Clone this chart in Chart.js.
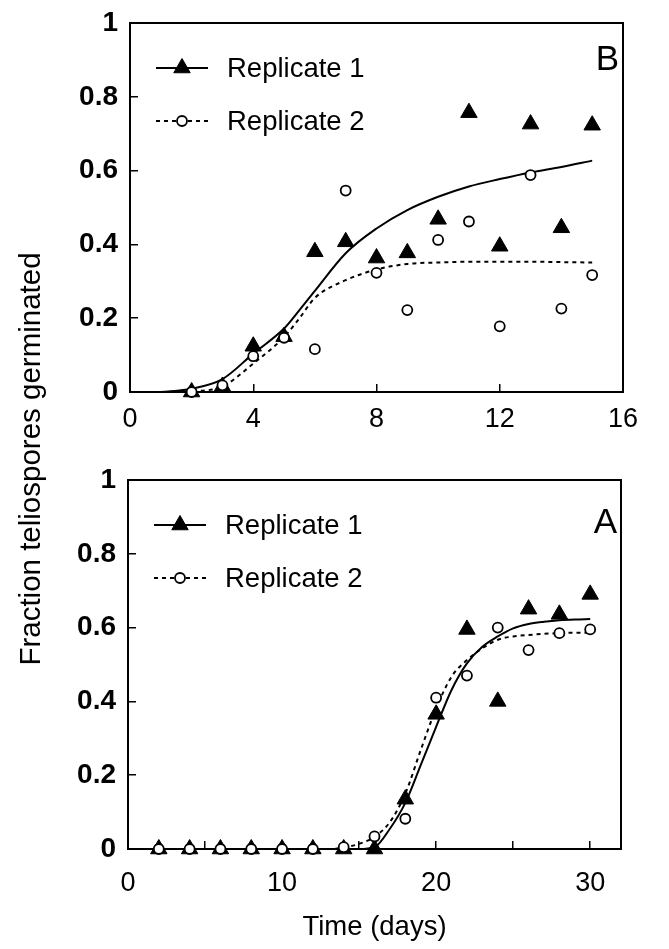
<!DOCTYPE html>
<html>
<head>
<meta charset="utf-8">
<script src="https://cdn.jsdelivr.net/npm/chart.js"></script>
<style>
  html, body { margin: 0; padding: 0; background: #fff; }
  #wrap { position: relative; width: 669px; height: 949px; overflow: hidden; background: #fff; }
  #wrap canvas { position: absolute; left: 0; }
  #ytitle {
    position: absolute; left: -220px; top: 444px; width: 500px; height: 30px;
    line-height: 30px; text-align: center; white-space: nowrap;
    font-family: "Liberation Sans", Arial, sans-serif; font-size: 29.5px; color: #000;
    transform: rotate(-90deg);
  }
</style>
</head>
<body>
<div id="wrap">
  <canvas id="chartB" width="669" height="450" style="top:0px"></canvas>
  <canvas id="chartA" width="669" height="499" style="top:450px"></canvas>
  <div id="ytitle">Fraction teliospores germinated</div>
</div>
<script>
// ---- panel B (days 2..15) ----
const daysB = [2, 3, 4, 5, 6, 7, 8, 9, 10, 11, 12, 13, 14, 15];
const rep1B = [0, 0.015, 0.124, 0.15, 0.38, 0.407, 0.363, 0.377, 0.468, 0.757, 0.395, 0.726, 0.445, 0.723];
const rep2B = [0, 0.018, 0.097, 0.147, 0.116, 0.546, 0.323, 0.222, 0.412, 0.462, 0.178, 0.588, 0.226, 0.317];
// fitted curves
const fitDaysB = [1, 2, 3, 4, 5, 5.5, 6, 7, 8, 9, 10, 11, 12, 13, 14, 15];
const fit1B = [0, 0.009, 0.035, 0.104, 0.172, 0.222, 0.274, 0.376, 0.443, 0.493, 0.529, 0.557, 0.577, 0.595, 0.61, 0.627];
const fit2B = [0, 0.002, 0.015, 0.077, 0.149, 0.2, 0.255, 0.303, 0.332, 0.347, 0.351, 0.353, 0.353, 0.353, 0.352, 0.351];

// ---- panel A (days 2..30) ----
const daysA = [2, 4, 6, 8, 10, 12, 14, 16, 18, 20, 22, 24, 26, 28, 30];
const rep1A = [0, 0, 0, 0, 0, 0, 0, 0, 0.135, 0.365, 0.595, 0.4, 0.65, 0.636, 0.69];
const rep2A = [0, 0, 0, 0, 0, 0, 0.005, 0.034, 0.082, 0.41, 0.47, 0.6, 0.539, 0.585, 0.595];
const fitDaysA = [1, 13, 14, 15, 16, 17, 18, 19, 20, 21, 22, 23, 24, 25, 26, 27, 28, 29, 30];
const fit1A = [0, 0, 0, 0, 0.005, 0.055, 0.125, 0.227, 0.331, 0.431, 0.503, 0.548, 0.576, 0.598, 0.61, 0.616, 0.62, 0.622, 0.623];
const fit2A = [0, 0, 0.004, 0.014, 0.033, 0.073, 0.15, 0.268, 0.381, 0.467, 0.512, 0.544, 0.567, 0.576, 0.58, 0.583, 0.585, 0.586, 0.586];

const seriesNames = ['Replicate 1', 'Replicate 2'];
const yTicks = [0, 0.2, 0.4, 0.6, 0.8, 1];

const FONT = '"Liberation Sans", Arial, sans-serif';

function pts(xs, ys) {
  return xs.map((x, i) => ({ x: x, y: ys[i] }));
}

// draws the frame, the inside legend and the panel letter
const panelKey = {
  id: 'panelKey',
  beforeDatasetsDraw(chart) {
    const { ctx, chartArea: a } = chart;
    ctx.save();
    ctx.strokeStyle = '#000';
    ctx.lineWidth = 2;
    ctx.strokeRect(a.left, a.top, a.right - a.left, a.bottom - a.top);
    ctx.restore();
  },
  afterDraw(chart, args, opts) {
    const { ctx, chartArea: a } = chart;
    ctx.save();
    const rows = [
      { y: a.top + 45, dash: [], style: 'triangle', r: 9.5, fill: '#000', bw: 1 },
      { y: a.top + 98, dash: [4, 4], style: 'circle', r: 5, fill: '#fff', bw: 1.8 }
    ];
    rows.forEach((row, i) => {
      ctx.strokeStyle = '#000';
      ctx.lineWidth = 2;
      ctx.setLineDash(row.dash);
      ctx.beginPath();
      ctx.moveTo(a.left + 26, row.y);
      ctx.lineTo(a.left + 78, row.y);
      ctx.stroke();
      ctx.setLineDash([]);
      ctx.fillStyle = row.fill;
      ctx.lineWidth = row.bw;
      Chart.helpers.drawPoint(ctx, { pointStyle: row.style, radius: row.r, borderWidth: row.bw, rotation: 0 }, a.left + 52, row.y);
      ctx.fillStyle = '#000';
      ctx.font = '27.5px ' + FONT;
      ctx.textAlign = 'left';
      ctx.textBaseline = 'middle';
      ctx.fillText(seriesNames[i], a.left + 97, row.y + 1);
    });
    ctx.font = '35px ' + FONT;
    ctx.textAlign = 'right';
    ctx.textBaseline = 'middle';
    ctx.fillText(opts.letter, a.right - 4, a.top + opts.letterDy);
    ctx.restore();
  }
};

function makePanel(id, cfg) {
  const solid = { borderColor: '#000', borderWidth: 2, pointRadius: 0, showLine: true, fill: false, cubicInterpolationMode: 'monotone' };
  return new Chart(document.getElementById(id), {
    type: 'scatter',
    data: {
      datasets: [
        Object.assign({ label: 'fit 1', data: pts(cfg.fitDays, cfg.fit1), order: 3 }, solid),
        Object.assign({ label: 'fit 2', data: pts(cfg.fitDays, cfg.fit2), order: 2, borderDash: [4, 4] }, solid),
        { label: seriesNames[0], data: pts(cfg.days, cfg.rep1), order: 1, pointStyle: 'triangle',
          pointRadius: 9.5, backgroundColor: '#000', borderColor: '#000', borderWidth: 1, clip: false },
        { label: seriesNames[1], data: pts(cfg.days, cfg.rep2), order: 0, pointStyle: 'circle',
          pointRadius: 5, backgroundColor: '#fff', borderColor: '#000', borderWidth: 1.8, clip: false }
      ]
    },
    options: {
      responsive: false,
      animation: false,
      events: [],
      layout: { padding: { left: 0, top: cfg.top, right: cfg.right, bottom: 0 } },
      plugins: {
        legend: { display: false },
        tooltip: { enabled: false },
        panelKey: { letter: cfg.letter, letterDy: cfg.letterDy }
      },
      scales: {
        x: {
          type: 'linear',
          min: 0,
          max: cfg.xMax,
          border: { display: false },
          grid: { drawOnChartArea: false, drawTicks: true, tickLength: -8, color: '#000', lineWidth: 1.5 },
          ticks: {
            stepSize: cfg.xStep,
            includeBounds: false,
            padding: cfg.xPad,
            color: '#000',
            font: { family: FONT, size: 27 },
            maxRotation: 0,
            callback: cfg.xLabel
          },
          title: cfg.xTitle ? {
            display: true, text: cfg.xTitle, color: '#000',
            font: { family: FONT, size: 27.5 }, padding: { top: 0, bottom: 5 }
          } : { display: false },
          afterFit: (s) => {
            s.height = cfg.xHeight;
            s.paddingLeft = 0; s.paddingRight = 0;
          }
        },
        y: {
          type: 'linear',
          min: 0,
          max: 1,
          border: { display: false },
          grid: { drawOnChartArea: false, drawTicks: true, tickLength: -8, color: '#000', lineWidth: 1.5 },
          afterBuildTicks: (s) => { s.ticks = yTicks.map(v => ({ value: v })); },
          ticks: {
            padding: 20,
            color: '#000',
            font: { family: FONT, size: 28, weight: 'bold' },
            callback: (v) => String(Math.round(v * 10) / 10)
          },
          afterFit: (s) => {
            s.width = cfg.yWidth;
            s.paddingTop = 0; s.paddingBottom = 0;
          }
        }
      }
    },
    plugins: [panelKey]
  });
}

makePanel('chartB', {
  days: daysB, rep1: rep1B, rep2: rep2B,
  fitDays: fitDaysB, fit1: fit1B, fit2: fit2B,
  letter: 'B', letterDy: 37,
  xMax: 16, xStep: 4, xPad: 19,
  xLabel: (v) => v,
  top: 23, right: 46, xHeight: 58, yWidth: 130
});

makePanel('chartA', {
  days: daysA, rep1: rep1A, rep2: rep2A,
  fitDays: fitDaysA, fit1: fit1A, fit2: fit2A,
  letter: 'A', letterDy: 43,
  xMax: 32, xStep: 5, xPad: 26,
  xLabel: (v) => (v % 10 === 0 ? v : ''),
  xTitle: 'Time (days)',
  top: 30, right: 48, xHeight: 100, yWidth: 128
});
</script>
</body>
</html>
